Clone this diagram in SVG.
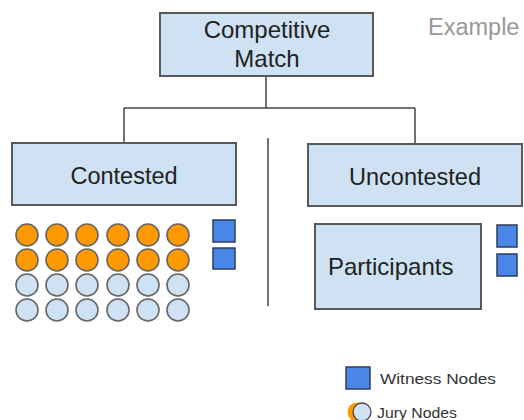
<svg xmlns="http://www.w3.org/2000/svg" width="524" height="420" viewBox="0 0 524 420">
<style>
.box{fill:#cfe2f3;stroke:#595959;stroke-width:2}
.t{font-family:"Liberation Sans",Arial,sans-serif;fill:#222;text-anchor:middle;font-size:23.5px}
.line{stroke:#444;stroke-width:1.5;fill:none}
.o{fill:#ff9900;stroke:#666;stroke-width:1.6}
.b{fill:#cfe2f3;stroke:#666;stroke-width:1.6}
.w{fill:#4a86e8;stroke:#2d3e5e;stroke-width:1.5}
.lg{font-family:"Liberation Sans",Arial,sans-serif;font-size:15px;fill:#333}
</style>
<rect width="524" height="420" fill="#fff"/>
<g id="connectors">
<path class="line" d="M266 76V108M124 108H415M124 108V143M415 108V144"/>
<path class="line" d="M268 138V306"/>
</g>
<g id="competitive-match">
<rect class="box" x="160" y="13" width="213" height="63"/>
<text class="t" x="267" y="38" style="font-size:24px">Competitive</text>
<text class="t" x="267" y="67" style="font-size:24px">Match</text>
</g>
<text x="428" y="35" font-family="Liberation Sans,Arial,sans-serif" font-size="23.5" fill="#999">Example</text>
<g id="contested">
<rect class="box" x="12" y="143" width="224" height="62"/>
<text class="t" x="124" y="184">Contested</text>
</g>
<g id="uncontested">
<rect class="box" x="308" y="144" width="214" height="62"/>
<text class="t" x="415" y="185">Uncontested</text>
</g>
<g id="jury-nodes">
<g class="o">
<circle cx="27" cy="235" r="11"/><circle cx="57" cy="235" r="11"/><circle cx="87" cy="235" r="11"/><circle cx="118" cy="235" r="11"/><circle cx="148" cy="235" r="11"/><circle cx="178" cy="235" r="11"/>
<circle cx="27" cy="260" r="11"/><circle cx="57" cy="260" r="11"/><circle cx="87" cy="260" r="11"/><circle cx="118" cy="260" r="11"/><circle cx="148" cy="260" r="11"/><circle cx="178" cy="260" r="11"/>
</g>
<g class="b">
<circle cx="27" cy="285" r="11"/><circle cx="57" cy="285" r="11"/><circle cx="87" cy="285" r="11"/><circle cx="118" cy="285" r="11"/><circle cx="148" cy="285" r="11"/><circle cx="178" cy="285" r="11"/>
<circle cx="27" cy="310" r="11"/><circle cx="57" cy="310" r="11"/><circle cx="87" cy="310" r="11"/><circle cx="118" cy="310" r="11"/><circle cx="148" cy="310" r="11"/><circle cx="178" cy="310" r="11"/>
</g>
</g>
<g id="contested-witness">
<rect class="w" x="213" y="220" width="22" height="22"/>
<rect class="w" x="213" y="248" width="22" height="21"/>
</g>
<g id="participants">
<rect class="box" x="315" y="224" width="166" height="85"/>
<text x="328" y="275" font-family="Liberation Sans,Arial,sans-serif" font-size="24" fill="#222">Participants</text>
</g>
<g id="uncontested-witness">
<rect class="w" x="497" y="225" width="20" height="22"/>
<rect class="w" x="497" y="254" width="20" height="22"/>
</g>
<g id="legend">
<rect class="w" x="346" y="367" width="24" height="22"/>
<text class="lg" x="380" y="384" textLength="116" lengthAdjust="spacingAndGlyphs">Witness Nodes</text>
<circle cx="357" cy="412" r="9.5" fill="#ff9900"/>
<circle cx="362" cy="412" r="9" fill="#cfe2f3" stroke="#444" stroke-width="1.3"/>
<text class="lg" x="377" y="418" textLength="80" lengthAdjust="spacingAndGlyphs">Jury Nodes</text>
</g>
</svg>
